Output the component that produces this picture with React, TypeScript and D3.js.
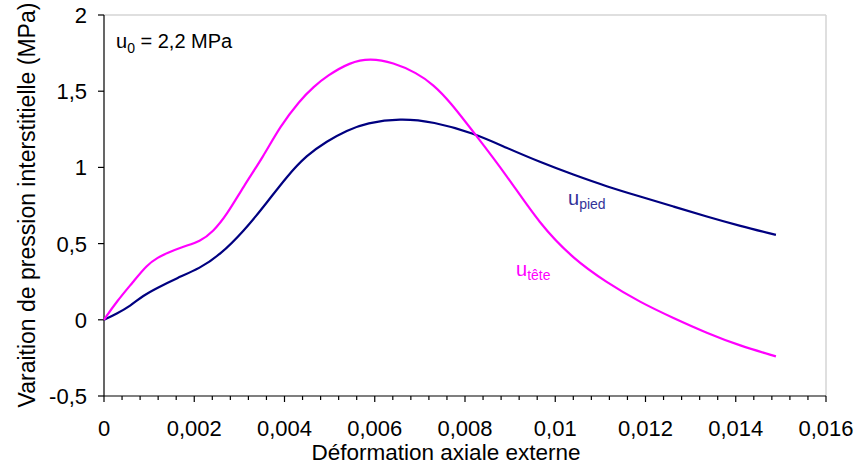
import React from "react";
import * as d3 from "d3";

const xTicks = [0, 0.002, 0.004, 0.006, 0.008, 0.01, 0.012, 0.014, 0.016];
const xTickLabels = ["0", "0,002", "0,004", "0,006", "0,008", "0,01", "0,012", "0,014", "0,016"];
const yTicks = [-0.5, 0, 0.5, 1, 1.5, 2];
const yTickLabels = ["-0,5", "0", "0,5", "1", "1,5", "2"];

const teteX = [0, 0.00028, 0.00065, 0.00095, 0.0012, 0.00139, 0.00176, 0.00213, 0.00242, 0.00272, 0.00309, 0.00353, 0.0039, 0.00434, 0.00465, 0.00494, 0.00545, 0.0059, 0.00641, 0.00693, 0.0073, 0.00767, 0.00818, 0.00892, 0.00966, 0.0104, 0.01114, 0.01188, 0.01262, 0.01336, 0.01409, 0.01489];
const teteY = [0, 0.12, 0.25, 0.36, 0.41, 0.437, 0.481, 0.514, 0.579, 0.689, 0.874, 1.071, 1.268, 1.44, 1.53, 1.6, 1.69, 1.716, 1.688, 1.62, 1.543, 1.43, 1.235, 0.95, 0.625, 0.4, 0.245, 0.115, 0.011, -0.087, -0.17, -0.24];

const piedX = [0, 0.00028, 0.00058, 0.00087, 0.00117, 0.00161, 0.00213, 0.00257, 0.00309, 0.0036, 0.00405, 0.00449, 0.00494, 0.00538, 0.00582, 0.00656, 0.0073, 0.00818, 0.00892, 0.00966, 0.0104, 0.01114, 0.01188, 0.01262, 0.01336, 0.01409, 0.01489];
const piedY = [0, 0.04, 0.09, 0.16, 0.208, 0.273, 0.339, 0.426, 0.579, 0.765, 0.94, 1.08, 1.172, 1.243, 1.292, 1.322, 1.3, 1.226, 1.128, 1.035, 0.952, 0.875, 0.809, 0.743, 0.677, 0.616, 0.557];

const W = 862;
const H = 469;
const M = { left: 104, top: 15, right: 826, bottom: 396 };
const FONT = "'Liberation Sans', Arial, sans-serif";

export default function App() {
  const x = d3.scaleLinear().domain([0, 0.016]).range([M.left, M.right]);
  const y = d3.scaleLinear().domain([-0.5, 2]).range([M.bottom, M.top]);
  const line = d3
    .line<[number, number]>()
    .x((d) => x(d[0]))
    .y((d) => y(d[1]))
    .curve(d3.curveBasis);
  const tete = teteX.map((v, i) => [v, teteY[i]] as [number, number]);
  const pied = piedX.map((v, i) => [v, piedY[i]] as [number, number]);
  const minor = d3.range(0, 41).map((i) => i * 0.0004);

  return (
    <svg width={W} height={H} style={{ position: "absolute", left: 0, top: 0, background: "#fff" }} fontFamily={FONT}>
      <rect x={0} y={0} width={W} height={H} fill="#fff" />
      <line x1={M.left} x2={M.right} y1={M.top} y2={M.top} stroke="#d4d4d4" strokeWidth={1.5} />
      <line x1={M.right} x2={M.right} y1={M.top} y2={M.bottom} stroke="#d4d4d4" strokeWidth={1.5} />
      <line x1={M.left} x2={M.left} y1={M.top} y2={M.bottom} stroke="#000" strokeWidth={1.2} />
      {yTicks.map((t, i) => (
        <g key={"y" + i}>
          <line x1={M.left - 6} x2={M.left} y1={y(t)} y2={y(t)} stroke="#000" strokeWidth={1.2} />
          <text x={87} y={y(t)} dy="0.36em" textAnchor="end" fontSize={22} fill="#000">
            {yTickLabels[i]}
          </text>
        </g>
      ))}
      <line x1={M.left} x2={M.right} y1={M.bottom} y2={M.bottom} stroke="#000" strokeWidth={1.2} />
      {minor.map((t, i) => (
        <line key={"m" + i} x1={x(t)} x2={x(t)} y1={M.bottom} y2={M.bottom + (i % 5 === 0 ? 6 : 4)} stroke="#000" strokeWidth={1.2} />
      ))}
      {xTicks.map((t, i) => (
        <text key={"x" + i} x={x(t)} y={436} textAnchor="middle" fontSize={22} fill="#000">
          {xTickLabels[i]}
        </text>
      ))}
      <path d={line(pied) || ""} fill="none" stroke="#000080" strokeWidth={2.2} />
      <path d={line(tete) || ""} fill="none" stroke="#ff00ff" strokeWidth={2.2} />
      <text x={116} y={48} fontSize={20} fill="#000">
        u<tspan fontSize={14} dy={5}>0</tspan>
        <tspan dy={-5}> = 2,2 MPa</tspan>
      </text>
      <text x={568} y={205} fontSize={20} fill="#333399">
        u<tspan fontSize={14} dy={4}>pied</tspan>
      </text>
      <text x={516} y={276} fontSize={20} fill="#ff00ff">
        u<tspan fontSize={14} dy={4}>tête</tspan>
      </text>
      <text x={446} y={460} textAnchor="middle" fontSize={22.5} fill="#000">
        Déformation axiale externe
      </text>
      <text transform="translate(35,205) rotate(-90)" textAnchor="middle" fontSize={23} fill="#000">
        Varaition de pression interstitielle (MPa)
      </text>
    </svg>
  );
}
